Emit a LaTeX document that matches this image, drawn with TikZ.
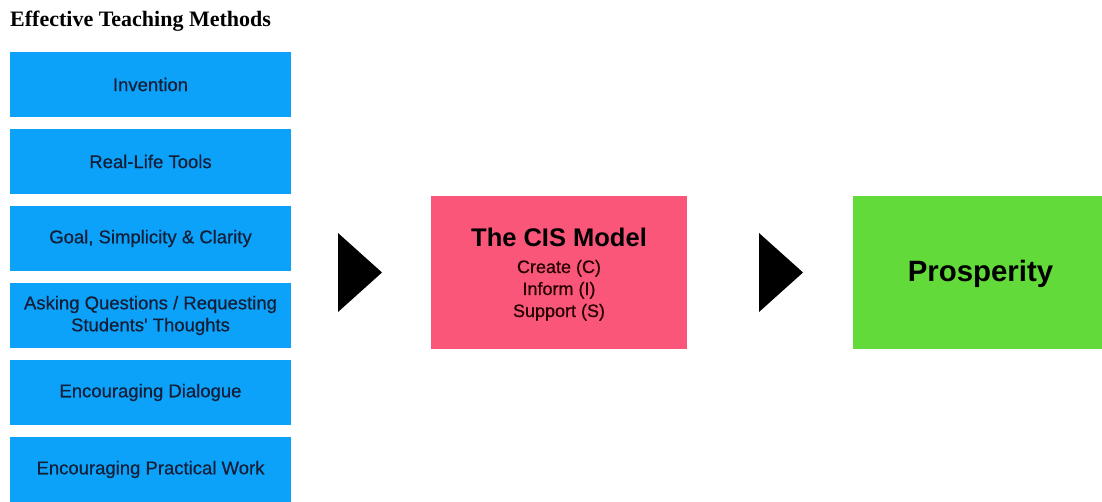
\documentclass[tikz,border=0pt]{standalone}
\usepackage{fontspec}
\setmainfont{Liberation Serif}
\setsansfont{Liberation Sans}
\newfontfamily\medsans[FakeBold=0.5]{Liberation Sans}
\begin{document}
\definecolor{methodblue}{RGB}{12,162,250}
\definecolor{modelpink}{RGB}{249,86,122}
\definecolor{prosgreen}{RGB}{98,218,58}
\definecolor{navytext}{RGB}{20,30,55}
\begin{tikzpicture}[x=1pt,y=-1pt,
  method/.style={rectangle, fill=methodblue, minimum width=281pt, minimum height=65pt,
    inner sep=0pt, align=center, text=navytext, font=\medsans\fontsize{18.5}{22}\selectfont},
  model/.style={rectangle, fill=modelpink, minimum width=256pt, minimum height=153pt,
    inner sep=0pt},
  result/.style={rectangle, fill=prosgreen, minimum width=249pt, minimum height=153pt,
    inner sep=0pt},
  pointer/.style={fill=black}]
\useasboundingbox (0,0) rectangle (1102,502);
\clip (0,0) rectangle (1102,502);

% heading
\node[anchor=base west, inner sep=0pt, font=\rmfamily\bfseries\fontsize{22}{24}\selectfont]
  (title) at (10,27) {Effective Teaching Methods};

% column of teaching methods
\node[method] (m1) at (150.5,84.5) {Invention};
\node[method] (m2) at (150.5,161.5) {Real-Life Tools};
\node[method] (m3) at (150.5,238.5) {Goal, Simplicity \& Clarity};
\node[method] (m4) at (150.5,315.5) {Asking Questions / Requesting\\Students' Thoughts};
\node[method] (m5) at (150.5,392.5) {Encouraging Dialogue};
\node[method] (m6) at (150.5,469.5) {Encouraging Practical Work};

% the model
\node[model] (cis) at (559,272.5) {};
\node[anchor=base, inner sep=0pt, font=\sffamily\bfseries\fontsize{25.5}{28}\selectfont]
  (cistitle) at (559,247) {The CIS Model};
\node[anchor=base, inner sep=0pt, text=black!85!red, font=\medsans\fontsize{18}{22}\selectfont]
  (cisc) at (559,273) {Create (C)};
\node[anchor=base, inner sep=0pt, text=black!85!red, font=\medsans\fontsize{18}{22}\selectfont]
  (cisi) at (559,295) {Inform (I)};
\node[anchor=base, inner sep=0pt, text=black!85!red, font=\medsans\fontsize{18}{22}\selectfont]
  (ciss) at (559,317) {Support (S)};

% outcome
\node[result] (pros) at (977.5,272.5) {};
\node[anchor=base, inner sep=0pt, font=\sffamily\bfseries\fontsize{29.4}{32}\selectfont]
  (prostext) at (980.5,282) {Prosperity};

% flow markers
\fill[pointer] (338,233) -- (382,272.5) -- (338,312) -- cycle;
\fill[pointer] (759,233) -- (803,272.5) -- (759,312) -- cycle;
\end{tikzpicture}
\end{document}
